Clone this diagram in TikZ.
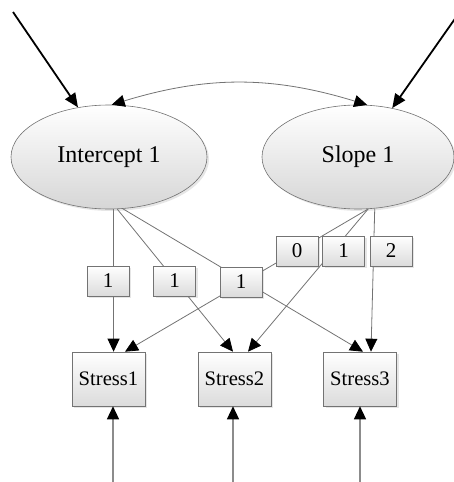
\documentclass[tikz,border=0pt]{standalone}
\usepackage{fontspec}
\setmainfont{Liberation Serif}
\usetikzlibrary{arrows.meta,shapes.geometric,shadows,backgrounds}

\begin{document}
\begin{tikzpicture}[y=-0.5pt,x=0.5pt,
	latent/.style={ellipse,draw=black!55,line width=0.3pt,top color=white,bottom color=black!16,
		minimum width=98pt,minimum height=52pt,inner sep=0pt,font=\fontsize{12}{14}\selectfont,
		drop shadow={opacity=0.2,shadow xshift=1pt,shadow yshift=-1pt}},
	obs/.style={rectangle,draw=black!55,line width=0.3pt,top color=white,bottom color=black!14,
		minimum width=36.5pt,minimum height=27pt,inner sep=0pt,font=\fontsize{10.3}{12}\selectfont,
		drop shadow={opacity=0.2,shadow xshift=1pt,shadow yshift=-1pt}},
	load/.style={obs,minimum width=21pt,minimum height=15pt,font=\fontsize{10.5}{12}\selectfont},
	conn/.style={draw=black!55,line width=0.4pt,-{Triangle[length=6.5pt,width=6pt,black]}},
	inarr/.style={draw=black,line width=0.9pt,-{Triangle[length=7pt,width=6pt]}},
	resid/.style={draw=black!45,line width=0.7pt,-{Triangle[length=6.5pt,width=6pt,black]}}]
	\useasboundingbox (0,0) rectangle (454,482);
	\clip (0,0) rectangle (454,482);

	\node[latent] (icpt) at (109,157) {Intercept 1};
	\node[latent,minimum width=96pt] (slope) at (358,157) {Slope 1};

	\node[obs] (s1) at (108.5,379) {Stress1};
	\node[obs] (s2) at (234.5,379) {Stress2};
	\node[obs] (s3) at (360,379) {Stress3};

	\node[load] (i1) at (108,281) {1};
	\node[load] (i2) at (174.5,281) {1};
	\node[load] (i3) at (241,282) {1};
	\node[load] (t0) at (297,251) {0};
	\node[load] (t1) at (343.5,251) {1};
	\node[load] (t2) at (391,251) {2};

	\coordinate (inL) at (13,12);
	\coordinate (inR) at (459,13);
	\coordinate (e1) at (113,482);
	\coordinate (e2) at (233,482);
	\coordinate (e3) at (360,482);

	\begin{pgfonlayer}{background}
		\draw[conn] (icpt.-85) -- (icpt.-85 |- s1.north);
		\draw[conn] (icpt.-81) -- ([xshift=-0.75pt]s2.north);
		\draw[conn] (icpt.-75) -- ([xshift=1.5pt]s3.north);
		\draw[conn] (slope.-79) -- ([xshift=8.25pt]s1.north);
		\draw[conn] (slope.-79) -- ([xshift=6.75pt]s2.north);
		\draw[conn] (slope.-72) -- ([xshift=5.5pt]s3.north);
	\end{pgfonlayer}

	\draw[inarr] (inL) -- (icpt.122.6);
	\draw[inarr] (inR) -- (slope.55);
	\draw[{Triangle[length=6.5pt,width=6pt,black]}-{Triangle[length=6.5pt,width=6pt,black]},draw=black!55,line width=0.4pt]
		(icpt.87) to[bend left=17] (slope.80);

	\draw[resid] (e1) -- (e1 |- s1.south);
	\draw[resid] (e2) -- (e2 |- s2.south);
	\draw[resid] (e3) -- (e3 |- s3.south);
\end{tikzpicture}
\end{document}
